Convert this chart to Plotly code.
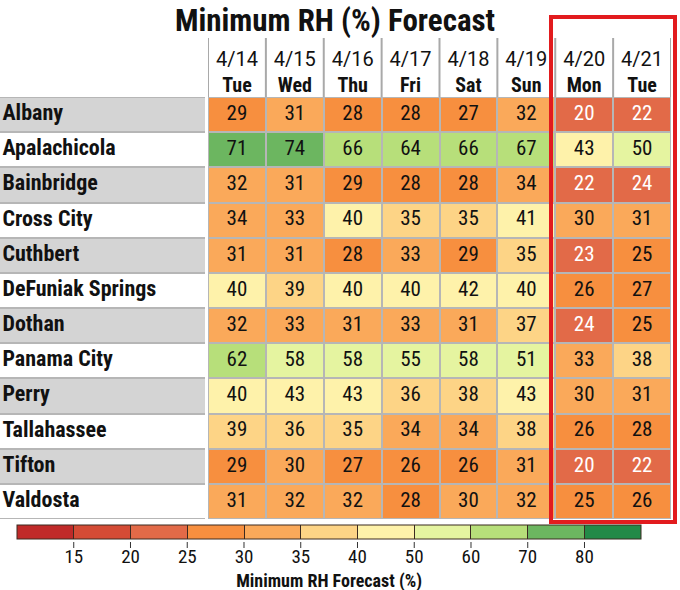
import plotly.graph_objects as go

# Minimum RH forecast, one row per station
stations = ["Albany", "Apalachicola", "Bainbridge", "Cross City", "Cuthbert",
            "DeFuniak Springs", "Dothan", "Panama City", "Perry", "Tallahassee",
            "Tifton", "Valdosta"]
dates = ["4/14", "4/15", "4/16", "4/17", "4/18", "4/19", "4/20", "4/21"]
days = ["Tue", "Wed", "Thu", "Fri", "Sat", "Sun", "Mon", "Tue"]

min_rh = [
    [29, 31, 28, 28, 27, 32, 20, 22],
    [71, 74, 66, 64, 66, 67, 43, 50],
    [32, 31, 29, 28, 28, 34, 22, 24],
    [34, 33, 40, 35, 35, 41, 30, 31],
    [31, 31, 28, 33, 29, 35, 23, 25],
    [40, 39, 40, 40, 42, 40, 26, 27],
    [32, 33, 31, 33, 31, 37, 24, 25],
    [62, 58, 58, 55, 58, 51, 33, 38],
    [40, 43, 43, 36, 38, 43, 30, 31],
    [39, 36, 35, 34, 34, 38, 26, 28],
    [29, 30, 27, 26, 26, 31, 20, 22],
    [31, 32, 32, 28, 30, 32, 25, 26],
]

# class breaks and colours of the legend
rh_breaks = [15, 20, 25, 30, 35, 40, 50, 60, 70, 80]
bin_colors = ["#c02a29", "#d44b35", "#e26a48", "#f78f3f", "#faa95a", "#fdd486",
              "#fef2aa", "#e5f4a0", "#b7df7a", "#6cb660", "#238a48"]

FONT = "Roboto Condensed, Liberation Sans Narrow, DejaVu Sans Condensed, Roboto, sans-serif"
FONT_DATE = "Roboto, sans-serif"

# which class each value falls in
bins = [[sum(v >= b for b in rh_breaks) for v in row] for row in min_rh]

n_bins = len(bin_colors)
colorscale = []
for i, c in enumerate(bin_colors):
    colorscale.append([i / n_bins, c])
    colorscale.append([(i + 1) / n_bins, c])

n_cols = len(dates)
n_rows = len(stations)
cols = list(range(n_cols))
rows = list(range(n_rows))

W, H = 680, 590
cb_x, cb_len, cb_top, cb_thick = 0.484, 0.918, 525, 14

fig = go.Figure()

# station name panel (alternating grey / white)
fig.add_trace(go.Heatmap(
    z=[[r % 2] for r in rows], x=[0], y=rows,
    colorscale=[[0, "#d4d4d4"], [1, "#ffffff"]], showscale=False,
    ygap=2, hoverinfo="skip", xaxis="x2", yaxis="y",
))
fig.add_trace(go.Scatter(
    x=[-0.488] * n_rows, y=rows, text=[f"<b>{s}</b>" for s in stations],
    mode="text", textposition="middle right",
    textfont=dict(family=FONT, size=22, color="#111111"),
    hoverinfo="skip", showlegend=False, xaxis="x2", yaxis="y",
))

# main grid
fig.add_trace(go.Heatmap(
    z=bins, x=cols, y=rows, zmin=-0.5, zmax=n_bins - 0.5,
    colorscale=colorscale, xgap=2, ygap=2,
    customdata=min_rh, hovertemplate="%{customdata}%<extra></extra>",
    colorbar=dict(
        orientation="h", x=cb_x, xanchor="center", y=1 - cb_top / H, yanchor="top",
        len=cb_len, lenmode="fraction", thickness=cb_thick, xpad=0, ypad=0,
        tickvals=[i + 0.5 for i in range(len(rh_breaks))],
        ticktext=[str(b) for b in rh_breaks],
        ticks="inside", ticklen=cb_thick, tickcolor="#3b2a20", tickwidth=1,
        outlinewidth=1, outlinecolor="#3b2a20",
        tickfont=dict(family=FONT, size=19, color="#111111"),
        title=dict(text="<b>Minimum RH Forecast (%)</b>", side="bottom",
                   font=dict(family=FONT, size=18, color="#111111")),
    ),
))

xs, ys, txt, tcol = [], [], [], []
for r in rows:
    for c in cols:
        xs.append(c)
        ys.append(r)
        txt.append(str(min_rh[r][c]))
        tcol.append("white" if bins[r][c] <= 2 else "#111111")
fig.add_trace(go.Scatter(
    x=xs, y=ys, text=txt, mode="text",
    textfont=dict(family=FONT, size=21, color=tcol),
    hoverinfo="skip", showlegend=False,
))

y_bot = 1 - 519 / H
y_top = 1 - 97 / H

# column separators in the header
for c in range(n_cols + 1):
    fig.add_shape(type="line", xref="x", yref="paper",
                  x0=c - 0.5, x1=c - 0.5, y0=y_top, y1=1 - 38 / H,
                  line=dict(color="#a9a9a9", width=2))

# short tick marks under the colour bar, one per class break
cb_left = cb_x - cb_len / 2
for i in range(len(rh_breaks)):
    xt = cb_left + (i + 1) * cb_len / n_bins
    fig.add_shape(type="line", xref="paper", yref="paper", x0=xt, x1=xt,
                  y0=1 - (cb_top + cb_thick + 3) / H, y1=1 - (cb_top + cb_thick + 9) / H,
                  line=dict(color="#333333", width=1))

# red box around the last two days
fig.add_shape(type="rect", xref="paper", yref="paper",
              x0=551 / W, x1=675 / W,
              y0=1 - 522 / H, y1=1 - 17 / H,
              line=dict(color="#e21b1e", width=4), fillcolor="rgba(0,0,0,0)")

header = [f"<span style='font-family:{FONT_DATE}'>{d}</span><br><b>{w}</b>"
          for d, w in zip(dates, days)]

fig.update_layout(
    width=W, height=H,
    margin=dict(l=0, r=0, t=0, b=0, autoexpand=False),
    paper_bgcolor="white", plot_bgcolor="#b6b6b6",
    font=dict(family=FONT, color="#111111"),
    title=dict(text="<b>Minimum RH (%) Forecast</b>", x=335 / W, xanchor="center",
               y=1 - 20 / H, yanchor="middle",
               font=dict(family=FONT, size=31, color="#111111")),
    xaxis=dict(domain=[208 / W, 671 / W], range=[-0.5, n_cols - 0.5], side="top",
               tickvals=cols, ticktext=header,
               tickfont=dict(family=FONT, size=20, color="#111111"),
               showgrid=False, zeroline=False, ticks="", anchor="y"),
    xaxis2=dict(domain=[0, 205 / W], range=[-0.5, 0.5], visible=False, anchor="y"),
    yaxis=dict(domain=[y_bot, y_top], range=[n_rows - 0.5, -0.5],
               showticklabels=False, showgrid=False, zeroline=False),
)

# drop the default page margin so the figure sits at the window corner
fig.write_html("out.html", config={"displayModeBar": False},
               post_script="document.body.style.margin='0';")
